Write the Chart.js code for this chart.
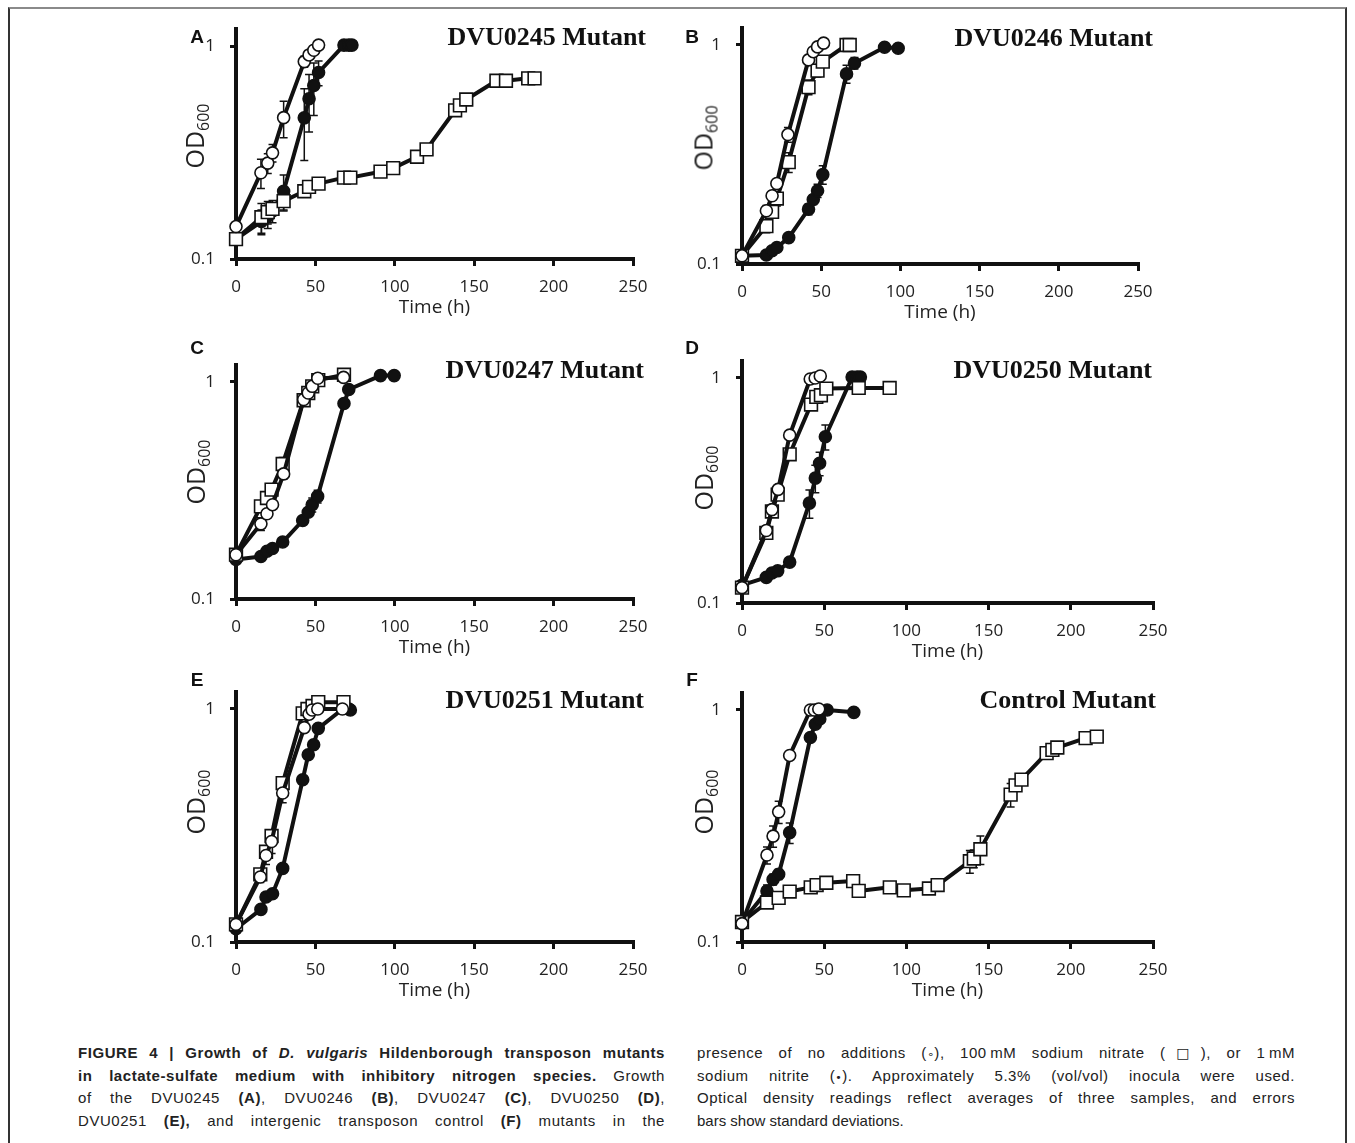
<!DOCTYPE html>
<html><head><meta charset="utf-8">
<script src="https://cdn.jsdelivr.net/npm/chart.js@4.4.1/dist/chart.umd.min.js"></script>
<style>
html,body{margin:0;padding:0;background:#fff;}
body{width:1355px;height:1143px;position:relative;overflow:hidden;}
.frame{position:absolute;left:8px;top:7px;width:1339px;height:1200px;border-top:2px solid #8a8a8a;border-left:2px solid #333;border-right:2px solid #333;box-sizing:border-box;}
canvas.p{position:absolute;}
.letter{position:absolute;font:bold 19px "Liberation Sans",Arial,sans-serif;color:#111;transform:translate(-50%,-50%);}
.ptitle{position:absolute;font:bold 26px "Liberation Serif","Times New Roman",serif;color:#111;transform:translate(-100%,-50%);white-space:nowrap;}
.ylab{position:absolute;font:25px "Open Sans",sans-serif;color:#222;transform:translate(-50%,-50%) rotate(-90deg);white-space:nowrap;line-height:1;}
.ylab sub{font-size:16px;vertical-align:-5px;}
.cap{position:absolute;font:15px "Liberation Sans",Arial,sans-serif;color:#222;}
.cap div{height:22.5px;line-height:22.5px;text-align:justify;text-align-last:justify;}
.cap div.last{text-align:left;text-align-last:left;}
.sym{font-family:"DejaVu Sans",sans-serif;font-size:11px;color:#222;}
</style></head><body>
<div class="frame"></div>
<script>
// ---------------- DATA ----------------
const X_TICKS = [0, 50, 100, 150, 200, 250];
const Y_TICKS = [0.1, 1];
const X_TITLE = 'Time (h)';
const PANEL_LETTERS = ['A', 'B', 'C', 'D', 'E', 'F'];
const PANEL_TITLES = ['DVU0245 Mutant', 'DVU0246 Mutant', 'DVU0247 Mutant', 'DVU0250 Mutant', 'DVU0251 Mutant', 'Control Mutant'];

// Panel A (DVU0245)
const A_none_t   = [0, 15.7, 20, 23, 30, 43, 46, 49, 52];
const A_none_od  = [0.142, 0.254, 0.282, 0.315, 0.461, 0.845, 0.908, 0.955, 1.01];
const A_none_err = [0, 0.04, 0.03, 0.03, 0.09, 0.05, 0.04, 0, 0];
const A_nitrate_t   = [0, 16, 20, 23, 30, 43, 46, 52, 68, 72, 91, 99, 114, 120, 138, 141, 145, 164, 170, 184, 188];
const A_nitrate_od  = [0.124, 0.157, 0.166, 0.172, 0.187, 0.208, 0.218, 0.226, 0.241, 0.241, 0.257, 0.267, 0.302, 0.327, 0.499, 0.526, 0.561, 0.687, 0.687, 0.705, 0.705];
const A_nitrate_err = [0, 0.025, 0.02, 0.01, 0.017, 0.01, 0.01, 0.01, 0.01, 0.01, 0.01, 0.01, 0.015, 0.01, 0.02, 0.02, 0.02, 0.02, 0.02, 0.01, 0.01];
const A_nitrite_t   = [0, 16, 20, 23, 30, 43, 46, 49, 52, 68, 71, 73];
const A_nitrite_od  = [0.124, 0.15, 0.159, 0.168, 0.208, 0.46, 0.565, 0.652, 0.751, 1.01, 1.01, 1.01];
const A_nitrite_err = [0, 0.02, 0.02, 0.02, 0.04, 0.17, 0.17, 0.18, 0.1, 0, 0, 0];

// Panel B (DVU0246)
const B_none_t   = [0, 15.4, 19, 22, 29, 42, 45, 47.7, 51.5];
const B_none_od  = [0.109, 0.175, 0.205, 0.233, 0.39, 0.855, 0.932, 0.98, 1.02];
const B_none_err = [0, 0.01, 0.01, 0.01, 0.03, 0.04, 0.02, 0, 0];
const B_nitrate_t   = [0, 15.4, 19, 22, 29.5, 42, 47.7, 51, 66, 68];
const B_nitrate_od  = [0.109, 0.149, 0.173, 0.199, 0.292, 0.642, 0.764, 0.84, 1.0, 1.0];
const B_nitrate_err = [0, 0.01, 0.01, 0.015, 0.03, 0.05, 0.05, 0.03, 0.02, 0.02];
const B_nitrite_t   = [0, 15.4, 19, 22, 29.5, 42, 45, 47.7, 51, 66, 71, 90, 98.6];
const B_nitrite_od  = [0.109, 0.110, 0.115, 0.119, 0.132, 0.178, 0.197, 0.216, 0.256, 0.738, 0.826, 0.976, 0.966];
const B_nitrite_err = [0, 0, 0, 0, 0.005, 0.01, 0.01, 0.015, 0.025, 0.07, 0.05, 0, 0];

// Panel C (DVU0247)
const C_none_t   = [0, 15.7, 19.5, 23, 30, 42.6, 45.5, 48, 51.5, 67.7];
const C_none_od  = [0.16, 0.222, 0.247, 0.272, 0.377, 0.83, 0.89, 0.955, 1.04, 1.05];
const C_none_err = [0, 0.015, 0.01, 0.01, 0.02, 0.02, 0.01, 0.01, 0, 0];
const C_nitrate_t   = [0, 15.7, 19.5, 22.4, 29.4, 42.6, 45.5, 48, 51.8, 68];
const C_nitrate_od  = [0.16, 0.267, 0.292, 0.319, 0.419, 0.824, 0.89, 0.955, 1.02, 1.08];
const C_nitrate_err = [0, 0.01, 0.01, 0.01, 0.03, 0.03, 0.02, 0.01, 0.01, 0.01];
const C_nitrite_t   = [0, 15.7, 19.5, 23, 29.4, 42, 45.5, 48, 51.4, 68, 71, 91, 99.6];
const C_nitrite_od  = [0.152, 0.157, 0.166, 0.171, 0.183, 0.23, 0.251, 0.272, 0.297, 0.796, 0.923, 1.07, 1.07];
const C_nitrite_err = [0, 0, 0, 0, 0, 0.01, 0.01, 0.02, 0.02, 0.04, 0.02, 0, 0];

// Panel D (DVU0250)
const D_none_t   = [0, 14.8, 18.2, 22, 29, 41.5, 44.5, 47.6];
const D_none_od  = [0.117, 0.21, 0.26, 0.32, 0.557, 0.99, 1.0, 1.02];
const D_none_err = [0, 0.01, 0.01, 0.01, 0.02, 0, 0, 0];
const D_nitrate_t   = [0, 14.8, 18.2, 21.7, 29, 42, 45.2, 48, 51.3, 71, 89.8];
const D_nitrate_od  = [0.117, 0.205, 0.255, 0.303, 0.458, 0.762, 0.824, 0.838, 0.897, 0.903, 0.903];
const D_nitrate_err = [0, 0.01, 0.01, 0.015, 0.02, 0.02, 0.02, 0.02, 0.02, 0, 0];
const D_nitrite_t   = [0, 14.8, 18.2, 21.7, 29, 41, 44.6, 47.2, 50.7, 67, 70, 72];
const D_nitrite_od  = [0.12, 0.13, 0.136, 0.139, 0.152, 0.278, 0.359, 0.418, 0.548, 1.01, 1.01, 1.01];
const D_nitrite_err = [0, 0, 0, 0, 0, 0.04, 0.05, 0.05, 0.07, 0, 0, 0];

// Panel E (DVU0251)
const E_none_t   = [0, 15.3, 18.9, 22.4, 29.4, 43, 46, 48, 51.5, 67];
const E_none_od  = [0.119, 0.19, 0.235, 0.27, 0.436, 0.832, 0.95, 0.99, 1.0, 1.0];
const E_none_err = [0, 0.01, 0.02, 0.03, 0.04, 0.02, 0.01, 0, 0, 0];
const E_nitrate_t   = [0, 15.3, 18.9, 22.4, 29.4, 42, 45, 48.2, 51.8, 67.7];
const E_nitrate_od  = [0.119, 0.195, 0.244, 0.285, 0.481, 0.958, 1.0, 1.03, 1.07, 1.07];
const E_nitrate_err = [0, 0.01, 0.01, 0.015, 0.02, 0.02, 0.01, 0.01, 0.01, 0];
const E_nitrite_t   = [0, 15.7, 18.9, 23, 29.4, 42, 45.5, 48.9, 51.8, 68, 71, 72];
const E_nitrite_od  = [0.114, 0.138, 0.156, 0.161, 0.207, 0.497, 0.636, 0.702, 0.826, 1.01, 1.0, 0.99];
const E_nitrite_err = [0, 0, 0, 0, 0.005, 0.02, 0.02, 0.02, 0.02, 0, 0, 0];

// Panel F (Control)
const F_none_t   = [0, 15.2, 18.9, 22.3, 29, 41.6, 44, 46.7];
const F_none_od  = [0.12, 0.237, 0.286, 0.364, 0.637, 1.0, 1.0, 1.01];
const F_none_err = [0, 0.02, 0.03, 0.04, 0.02, 0, 0, 0];
const F_nitrate_t   = [0, 15.2, 22.3, 29, 41.8, 45.4, 51.3, 67.6, 71, 89.9, 98.4, 113.7, 119, 138.6, 141, 145, 163.4, 166.4, 170, 185.3, 188.8, 191.8, 209, 215.8];
const F_nitrate_od  = [0.122, 0.148, 0.155, 0.165, 0.172, 0.176, 0.18, 0.183, 0.166, 0.172, 0.167, 0.17, 0.176, 0.223, 0.229, 0.251, 0.432, 0.473, 0.501, 0.652, 0.673, 0.689, 0.756, 0.768];
const F_nitrate_err = [0, 0, 0, 0, 0, 0, 0, 0, 0, 0, 0, 0, 0, 0.025, 0.02, 0.035, 0.05, 0.02, 0, 0, 0, 0, 0, 0];
const F_nitrite_t   = [0, 15.2, 18.9, 22.3, 29, 41.6, 44.6, 47.3, 51.8, 68];
const F_nitrite_od  = [0.122, 0.166, 0.186, 0.196, 0.296, 0.761, 0.868, 0.915, 1.0, 0.977];
const F_nitrite_err = [0, 0.01, 0.01, 0.01, 0.03, 0.02, 0.03, 0, 0, 0];

// ---------------- RENDERING ----------------
const errPlugin = {
  id: 'errbars',
  beforeDatasetsDraw(chart) {
    const ctx = chart.ctx, xs = chart.scales.x, ys = chart.scales.y;
    ctx.save();
    ctx.strokeStyle = '#111';
    ctx.lineWidth = 1.5;
    chart.data.datasets.forEach(ds => {
      (ds.err || []).forEach((e, i) => {
        if (!e) return;
        const p = ds.data[i];
        const px = xs.getPixelForValue(p.x);
        const yT = ys.getPixelForValue(p.y + e);
        const yB = ys.getPixelForValue(Math.max(p.y - e, 0.1005));
        ctx.beginPath();
        ctx.moveTo(px, yT); ctx.lineTo(px, yB);
        ctx.moveTo(px - 4, yT); ctx.lineTo(px + 4, yT);
        ctx.moveTo(px - 4, yB); ctx.lineTo(px + 4, yB);
        ctx.stroke();
      });
    });
    ctx.restore();
  }
};

const STYLE = {
  none:    { pointStyle: 'circle', pointRadius: 6,   pointBackgroundColor: '#fff', order: 0 },
  nitrate: { pointStyle: 'rect',   pointRadius: 9,   pointBackgroundColor: '#fff', order: 1 },
  nitrite: { pointStyle: 'circle', pointRadius: 6,   pointBackgroundColor: '#111', order: 2 }
};

function series(kind, t, od, err) {
  return Object.assign({
    data: t.map((x, i) => ({ x: x, y: od[i] })),
    err: err,
    borderColor: '#111', borderWidth: 4, tension: 0, fill: false,
    pointBorderColor: '#111', pointBorderWidth: 1.6, clip: false,
    borderJoinStyle: 'round'
  }, STYLE[kind]);
}

function panel(L, R, y1, y01, sets) {
  const T = y1 - 17;
  const bottom = y01 - 2;
  const yMax = Math.pow(10, (y1 - T) / (bottom - y1));
  const padTop = 32, padRight = 40, W = 80, H = 62;
  const left = L - W, top = T - padTop;
  const width = Math.round(R + padRight - left), height = Math.round(bottom + H - top);
  const cv = document.createElement('canvas');
  cv.className = 'p';
  cv.style.left = left + 'px'; cv.style.top = top + 'px';
  cv.width = width; cv.height = height;
  cv.style.width = width + 'px'; cv.style.height = height + 'px';
  document.body.appendChild(cv);
  const tickFont = { family: 'Open Sans', size: 17 };
  new Chart(cv, {
    type: 'line',
    data: { datasets: sets },
    options: {
      responsive: false, animation: false, devicePixelRatio: 1,
      layout: { padding: { top: padTop, right: width - (R - left), left: 0, bottom: 0 } },
      plugins: { legend: { display: false }, tooltip: { enabled: false } },
      scales: {
        x: {
          type: 'linear', min: 0, max: 250,
          afterFit: s => { s.height = H; },
          afterBuildTicks: s => { s.ticks = X_TICKS.map(v => ({ value: v })); },
          ticks: { font: tickFont, color: '#222', padding: 11, maxRotation: 0, autoSkip: false },
          grid: { display: true, drawOnChartArea: false, drawTicks: true, tickLength: 7, lineWidth: 3, color: '#111' },
          border: { display: true, width: 4, color: '#111' },
          title: { display: true, text: X_TITLE, font: { family: 'Open Sans', size: 19 }, color: '#222', padding: { top: 0, bottom: 2 } }
        },
        y: {
          type: 'logarithmic', min: 0.1, max: yMax,
          afterFit: s => { s.width = W; },
          afterBuildTicks: s => { s.ticks = Y_TICKS.map(v => ({ value: v })); },
          ticks: { font: tickFont, color: '#222', padding: 15, callback: v => String(v) },
          grid: { display: true, drawOnChartArea: false, drawTicks: true, tickLength: 6, lineWidth: 3, color: '#111' },
          border: { display: true, width: 4, color: '#111' }
        }
      }
    },
    plugins: [errPlugin]
  });
}

panel(236, 633, 46, 261, [
  series('none', A_none_t, A_none_od, A_none_err),
  series('nitrate', A_nitrate_t, A_nitrate_od, A_nitrate_err),
  series('nitrite', A_nitrite_t, A_nitrite_od, A_nitrite_err)]);
panel(742, 1138, 45, 266, [
  series('none', B_none_t, B_none_od, B_none_err),
  series('nitrate', B_nitrate_t, B_nitrate_od, B_nitrate_err),
  series('nitrite', B_nitrite_t, B_nitrite_od, B_nitrite_err)]);
panel(236, 633, 381.7, 601, [
  series('none', C_none_t, C_none_od, C_none_err),
  series('nitrate', C_nitrate_t, C_nitrate_od, C_nitrate_err),
  series('nitrite', C_nitrite_t, C_nitrite_od, C_nitrite_err)]);
panel(742, 1153, 377.7, 605, [
  series('none', D_none_t, D_none_od, D_none_err),
  series('nitrate', D_nitrate_t, D_nitrate_od, D_nitrate_err),
  series('nitrite', D_nitrite_t, D_nitrite_od, D_nitrite_err)]);
panel(236, 633, 709, 944, [
  series('none', E_none_t, E_none_od, E_none_err),
  series('nitrate', E_nitrate_t, E_nitrate_od, E_nitrate_err),
  series('nitrite', E_nitrite_t, E_nitrite_od, E_nitrite_err)]);
panel(742, 1153, 710, 944, [
  series('none', F_none_t, F_none_od, F_none_err),
  series('nitrate', F_nitrate_t, F_nitrate_od, F_nitrate_err),
  series('nitrite', F_nitrite_t, F_nitrite_od, F_nitrite_err)]);

// Labels (HTML text)
const LETTER_POS = [[197, 37], [692, 37], [197, 348], [692, 348], [197, 680], [692, 680]];
const TITLE_POS = [[646, 37], [1153, 38], [644, 370], [1152, 370], [644, 700], [1156, 700]];
const YLAB_POS = [[196, 136], [705, 138], [197, 472], [705, 478], [197, 802], [705, 802]];
PANEL_LETTERS.forEach((l, i) => {
  const d = document.createElement('div');
  d.className = 'letter'; d.textContent = l;
  d.style.left = LETTER_POS[i][0] + 'px'; d.style.top = LETTER_POS[i][1] + 'px';
  document.body.appendChild(d);
  const t = document.createElement('div');
  t.className = 'ptitle'; t.textContent = PANEL_TITLES[i];
  t.style.left = TITLE_POS[i][0] + 'px'; t.style.top = TITLE_POS[i][1] + 'px';
  document.body.appendChild(t);
  const y = document.createElement('div');
  y.className = 'ylab'; y.innerHTML = 'OD<sub>600</sub>';
  y.style.left = YLAB_POS[i][0] + 'px'; y.style.top = YLAB_POS[i][1] + 'px';
  document.body.appendChild(y);
});
</script>
<div class="cap" style="left:78px;top:1042px;width:587px;">
  <div><b>FIGURE 4 | Growth of <i>D. vulgaris</i> Hildenborough transposon mutants</b></div>
  <div><b>in lactate-sulfate medium with inhibitory nitrogen species.</b> Growth</div>
  <div>of the DVU0245 <b>(A)</b>, DVU0246 <b>(B)</b>, DVU0247 <b>(C)</b>, DVU0250 <b>(D)</b>,</div>
  <div>DVU0251 <b>(E),</b> and intergenic transposon control <b>(F)</b> mutants in the</div>
</div>
<div class="cap" style="left:697px;top:1042px;width:598px;">
  <div>presence of no additions (<span class="sym">∘</span>), 100&#8201;mM sodium nitrate (<span class="sym" style="font-size:14px">□</span>), or 1&#8201;mM</div>
  <div>sodium nitrite (<span class="sym">•</span>). Approximately 5.3% (vol/vol) inocula were used.</div>
  <div>Optical density readings reflect averages of three samples, and errors</div>
  <div class="last">bars show standard deviations.</div>
</div>
<script>
document.querySelectorAll('.cap div').forEach(d => {
  const span = document.createElement('span');
  span.innerHTML = d.innerHTML;
  d.innerHTML = '';
  d.appendChild(span);
  const prevA = d.style.textAlign, prevL = d.style.textAlignLast;
  d.style.textAlign = 'left';
  d.style.textAlignLast = 'left';
  span.style.whiteSpace = 'nowrap';
  const W = d.clientWidth;
  let fs = 15;
  while (span.getBoundingClientRect().width > W - 3 && fs > 10) {
    fs -= 0.25;
    d.style.fontSize = fs + 'px';
  }
  if (!d.classList.contains('last')) {
    let ls = 0;
    while (span.getBoundingClientRect().width < W * 0.9 && ls < 0.5) {
      ls += 0.05;
      d.style.letterSpacing = ls.toFixed(2) + 'px';
    }
    if (span.getBoundingClientRect().width > W - 3) {
      d.style.letterSpacing = Math.max(0, ls - 0.05).toFixed(2) + 'px';
    }
  }
  span.style.whiteSpace = '';
  d.style.textAlign = prevA;
  d.style.textAlignLast = prevL;
});
</script>
</body></html>
